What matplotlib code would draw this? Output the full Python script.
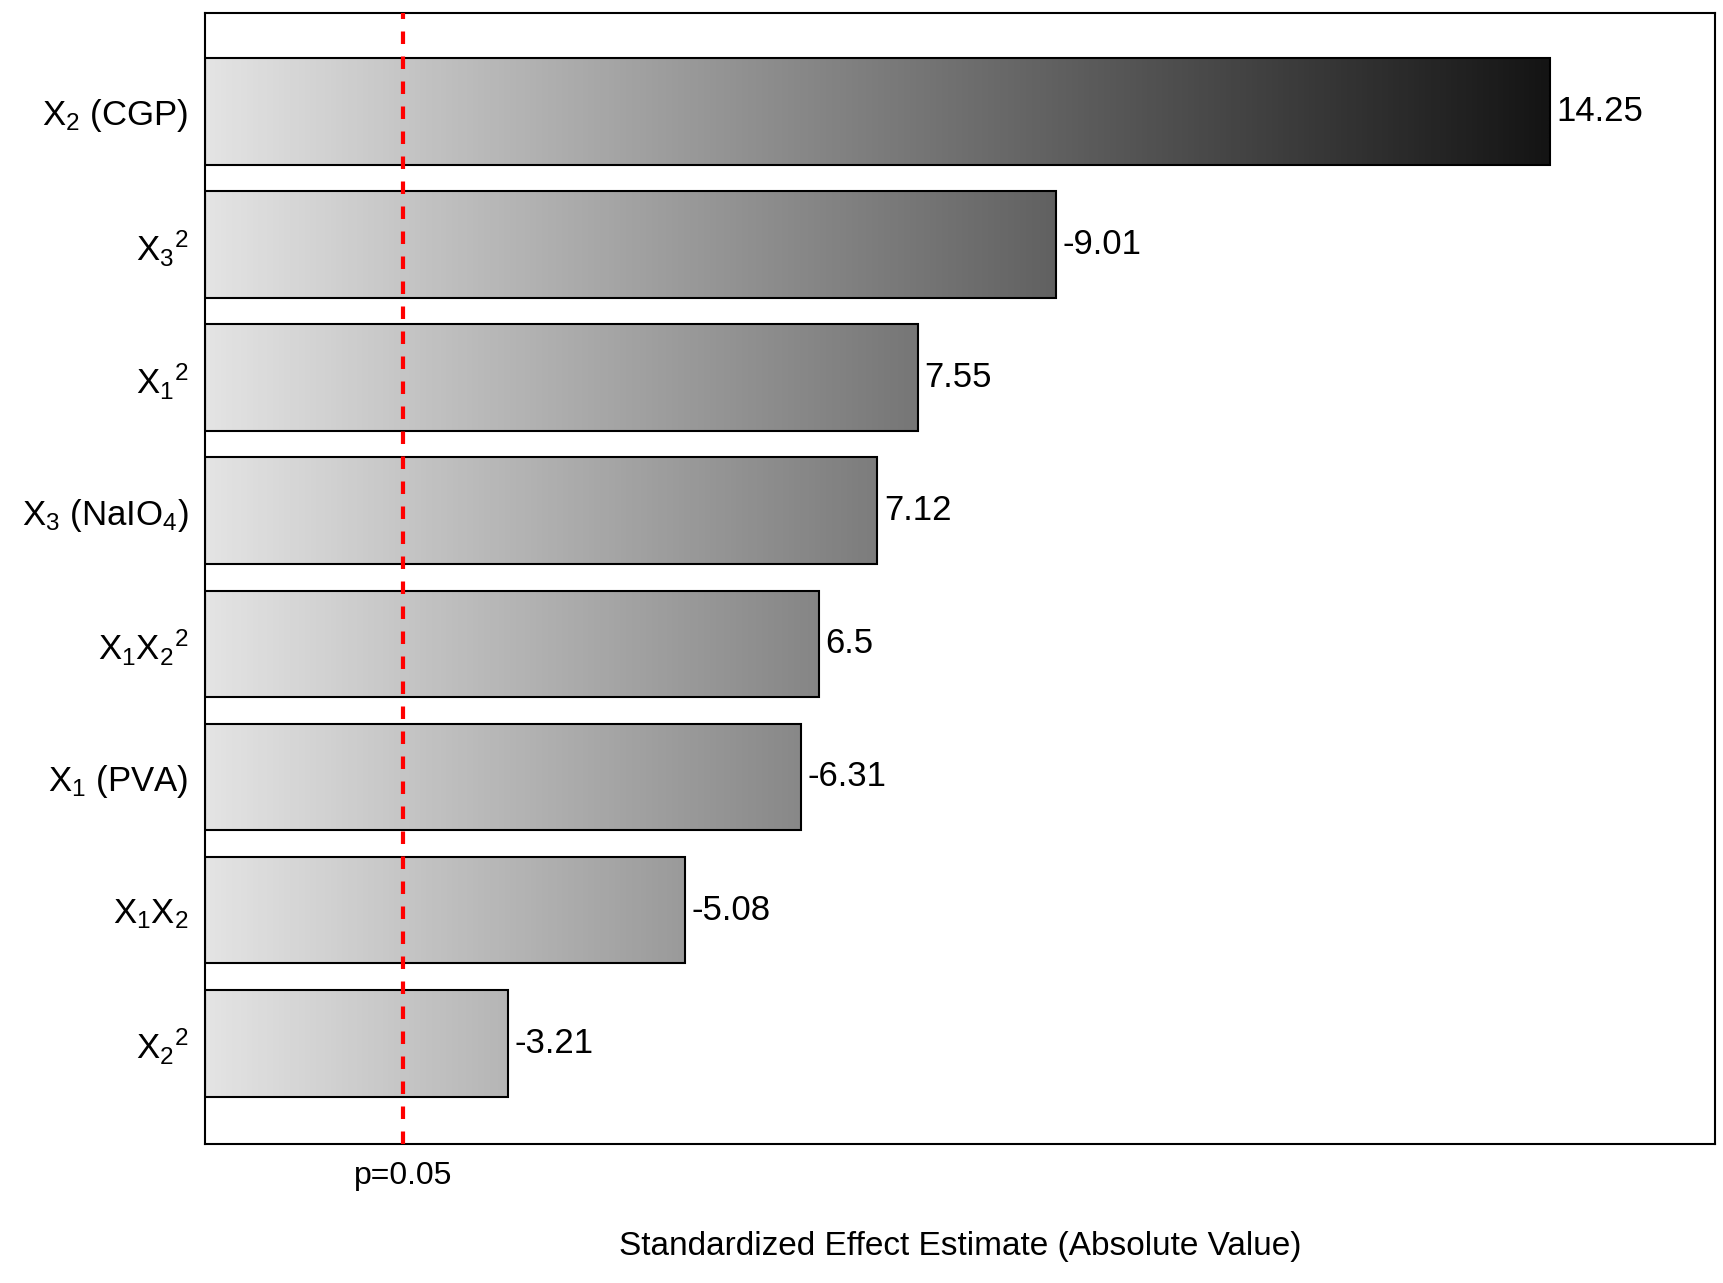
import numpy as np
import matplotlib
matplotlib.use("Agg")
import matplotlib.pyplot as plt
from matplotlib.patches import Rectangle
from matplotlib.colors import LinearSegmentedColormap

plt.rcParams['font.family'] = ['Liberation Sans', 'DejaVu Sans']
plt.rcParams['mathtext.fontset'] = 'custom'
plt.rcParams['mathtext.rm'] = 'Liberation Sans'
plt.rcParams['mathtext.it'] = 'Liberation Sans'

terms = ["X$_2$ (CGP)", "X$_3$$^2$", "X$_1$$^2$", "X$_3$ (NaIO$_4$)", "X$_1$X$_2$$^2$",
         "X$_1$ (PVA)", "X$_1$X$_2$", "X$_2$$^2$"]
effects = [14.25, 9.01, 7.55, 7.12, 6.5, 6.31, 5.08, 3.21]
labels = ["14.25", "-9.01", "7.55", "7.12", "6.5", "-6.31", "-5.08", "-3.21"]
p_crit = 2.1

cmap = LinearSegmentedColormap.from_list("g", ["#e4e4e4", "#141414"])

fig = plt.figure(figsize=(17.24, 12.83), dpi=100)
ax = fig.add_axes([0.119, 0.108, 0.876, 0.882])
xmax = 16.0
ax.set_xlim(0, xmax)
ax.set_ylim(-0.76, 7.74)
grad = np.linspace(0, 1, 512).reshape(1, -1)
n = len(terms)
for i, (t, v, lab) in enumerate(zip(terms, effects, labels)):
    y = n - 1 - i
    im = ax.imshow(grad, cmap=cmap, vmin=0, vmax=1.0,
                   extent=[0, effects[0], y - 0.4, y + 0.4], aspect='auto',
                   interpolation='bilinear', zorder=1)
    rect = Rectangle((0, y - 0.4), v, 0.8, facecolor='none', edgecolor='black', lw=1.5, zorder=2)
    ax.add_patch(rect)
    im.set_clip_path(rect)
    ax.text(v + 0.07, y, lab, va='center', ha='left', fontsize=25)
ax.set_yticks([n - 1 - i for i in range(n)])
ax.set_yticklabels(terms, fontsize=25)
ax.tick_params(axis='y', length=0, pad=12)
ax.set_xticks([])
ax.axvline(p_crit, color='red', ls=(0, (3, 3)), lw=3, zorder=3)
ax.text(p_crit, -1.0, "p=0.05", ha='center', va='center', fontsize=23)
ax.set_xlabel("Standardized Effect Estimate (Absolute Value)", fontsize=24, labelpad=62)
for s in ax.spines.values():
    s.set_linewidth(1.5)
fig.savefig("out.png", dpi=100)
